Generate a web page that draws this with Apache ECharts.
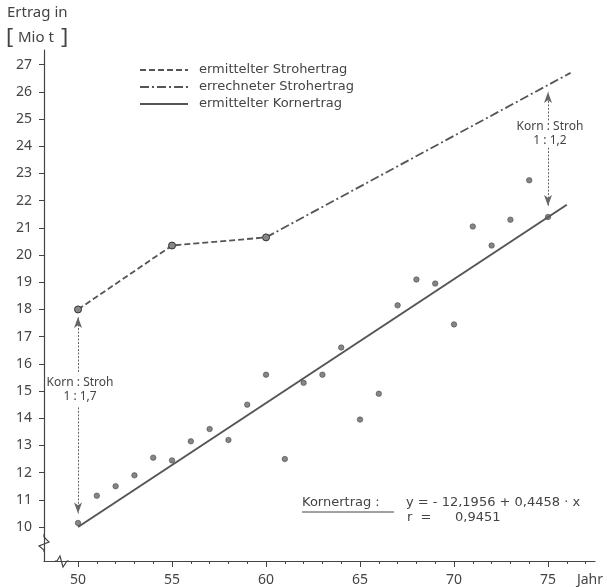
<!DOCTYPE html>
<html lang="de">
<head>
  <meta charset="UTF-8" />
  <title>Ertrag Korn / Stroh</title>
  <script src="https://cdn.jsdelivr.net/npm/echarts@6/dist/echarts.min.js"></script>
  <style>
    html, body { margin: 0; padding: 0; background: #fff; }
    #chart { width: 607px; height: 587px; }
  </style>
</head>
<body>
  <div id="chart"></div>
  <script>
    // Kornertrag, ermittelt (Jahr 50..75)
    const years = [50, 51, 52, 53, 54, 55, 56, 57, 58, 59, 60, 61, 62, 63, 64, 65, 66, 67, 68, 69, 70, 71, 72, 73, 74, 75];
    const kornValues = [10.15, 11.15, 11.5, 11.9, 12.55, 12.45, 13.15, 13.6, 13.2, 14.5, 15.6, 12.5, 15.3, 15.6, 16.6, 13.95, 14.9, 18.15, 19.1, 18.95, 17.45, 21.05, 20.35, 21.3, 22.75, 21.4];

    // Strohertrag
    const strohYears = [50, 55, 60];
    const strohValues = [18.0, 20.35, 20.65];
    const strohCalcYears = [60, 76.2];
    const strohCalcValues = [20.65, 26.7];

    // Regressionsgerade Korn
    const kornLineYears = [50, 76];
    const kornLineValues = [10.0, 21.85];

    // Verhältnis-Pfeile: [jahr, von, bis]
    const ratioArrows = [
      [50, 15.7, 17.72], [50, 14.4, 10.5],
      [75, 24.95, 26.0], [75, 23.95, 21.8]
    ];
    const ratioLabels = [
      { year: 50, value: 15.05, text: 'Korn : Stroh\n1 : 1,7' },
      { year: 75, value: 24.45, text: 'Korn : Stroh\n1 : 1,2' }
    ];

    const yTicks = [10, 11, 12, 13, 14, 15, 16, 17, 18, 19, 20, 21, 22, 23, 24, 25, 26, 27];
    const xLabels = [50, 55, 60, 65, 70, 75];
    const xMinorTicks = [50, 51, 52, 53, 54, 55, 56, 57, 58, 59, 60, 61, 62, 63, 64, 65, 66, 67, 68, 69, 70, 71, 72, 73, 74, 75, 76, 77];

    const ink = '#444';
    const font = 'Noto Sans';
    const wide = 'DejaVu Sans';
    const zip = (xs, ys) => xs.map((x, i) => [x, ys[i]]);

    const chart = echarts.init(document.getElementById('chart'), null, { renderer: 'canvas' });

    const xBase = {
      type: 'value', min: 48.19, max: 77.5, position: 'bottom',
      splitLine: { show: false }
    };

    chart.setOption({
      animation: false,
      backgroundColor: '#fff',
      grid: { left: 44, right: 12, top: 50, bottom: 26 },
      xAxis: [
        Object.assign({}, xBase, {
          axisLine: { lineStyle: { color: ink, width: 1.2 } },
          axisTick: { show: true, length: 3, customValues: xMinorTicks, lineStyle: { color: ink } },
          axisLabel: { show: false }
        }),
        Object.assign({}, xBase, {
          axisLine: { show: false },
          axisTick: { show: true, length: 6, customValues: xLabels, lineStyle: { color: ink } },
          axisLabel: { customValues: xLabels, color: ink, fontFamily: font, fontSize: 14, margin: 12 }
        })
      ],
      yAxis: {
        type: 'value', min: 8.75, max: 27.54,
        splitLine: { show: false },
        axisLine: { show: true, lineStyle: { color: ink, width: 1.2 } },
        axisTick: { show: true, length: 5, customValues: yTicks, lineStyle: { color: ink } },
        axisLabel: { customValues: yTicks, color: ink, fontFamily: font, fontSize: 14, margin: 12 }
      },
      series: [
        {
          name: 'ermittelter Kornertrag',
          type: 'line',
          data: zip(kornLineYears, kornLineValues),
          showSymbol: false,
          lineStyle: { color: '#555', width: 2 },
          markLine: {
            silent: true,
            symbol: ['none', 'arrow'],
            symbolSize: [6, 11],
            label: { show: false },
            lineStyle: { color: '#666', width: 1, type: [2, 1.5] },
            data: ratioArrows.map(([x, a, b]) => [{ coord: [x, a] }, { coord: [x, b] }])
          }
        },
        {
          name: 'Kornertrag Messwerte',
          type: 'scatter',
          data: zip(years, kornValues),
          symbolSize: 5.5,
          itemStyle: { color: '#666', borderColor: '#333', borderWidth: 0.6 }
        },
        {
          name: 'ermittelter Strohertrag',
          type: 'line',
          data: zip(strohYears, strohValues),
          symbol: 'circle',
          symbolSize: 7,
          itemStyle: { color: '#888', borderColor: '#333', borderWidth: 1 },
          lineStyle: { color: '#555', width: 1.8, type: [6, 3] }
        },
        {
          name: 'errechneter Strohertrag',
          type: 'line',
          data: zip(strohCalcYears, strohCalcValues),
          showSymbol: false,
          lineStyle: { color: '#555', width: 1.8, type: [9, 3, 2, 3] }
        }
      ]
    });

    // Legende, Beschriftungen, Achsenbruch
    const px = (x, y) => chart.convertToPixel({ gridIndex: 0 }, [x, y]);
    const textStyle = (extra) => Object.assign({ fill: ink, font: '14px "' + font + '"' }, extra);

    const legendRows = [
      { text: 'ermittelter Strohertrag', dash: [6, 3] },
      { text: 'errechneter Strohertrag', dash: [9, 3, 2, 3] },
      { text: 'ermittelter Kornertrag', dash: null }
    ];
    const graphic = [];
    legendRows.forEach((row, i) => {
      const y = 70 + i * 17;
      graphic.push({
        type: 'line', shape: { x1: 140, y1: y, x2: 188, y2: y },
        style: { stroke: '#555', lineWidth: row.dash ? 1.8 : 2, lineDash: row.dash }
      });
      graphic.push({
        type: 'text', x: 199, y: y,
        style: textStyle({ text: row.text, font: '13px "' + wide + '"', textVerticalAlign: 'middle' })
      });
    });

    graphic.push({ type: 'text', x: 7, y: 13, style: textStyle({ text: 'Ertrag in', font: '15px "' + font + '"', textVerticalAlign: 'middle' }) });
    graphic.push({ type: 'text', x: 6, y: 38, style: textStyle({ text: '[', font: '22px "' + font + '"', textVerticalAlign: 'middle' }) });
    graphic.push({ type: 'text', x: 18, y: 38, style: textStyle({ text: 'Mio t', font: '15px "' + font + '"', textVerticalAlign: 'middle' }) });
    graphic.push({ type: 'text', x: 61, y: 38, style: textStyle({ text: ']', font: '22px "' + font + '"', textVerticalAlign: 'middle' }) });

    ratioLabels.forEach(l => {
      const p = px(l.year, l.value);
      graphic.push({
        type: 'text', x: p[0] + 2, y: p[1],
        style: textStyle({ text: l.text, font: '12px "' + font + '"', textAlign: 'center', textVerticalAlign: 'middle', lineHeight: 14 })
      });
    });

    // Regressionsformel
    const f13 = '13px "' + wide + '"';
    graphic.push({ type: 'text', x: 302, y: 503, style: textStyle({ text: 'Kornertrag :', font: f13, textVerticalAlign: 'middle' }) });
    graphic.push({ type: 'line', shape: { x1: 302, y1: 512, x2: 394, y2: 512 }, style: { stroke: ink, lineWidth: 1 } });
    graphic.push({ type: 'text', x: 406, y: 503, style: textStyle({ text: 'y = - 12,1956 + 0,4458 · x', font: f13, textVerticalAlign: 'middle' }) });
    graphic.push({ type: 'text', x: 407, y: 518, style: textStyle({ text: 'r  =', font: f13, textVerticalAlign: 'middle' }) });
    graphic.push({ type: 'text', x: 455, y: 518, style: textStyle({ text: '0,9451', font: f13, textVerticalAlign: 'middle' }) });

    // "Jahr" rechts neben der letzten Beschriftung
    const jahr = px(77.5, 8.75);
    graphic.push({ type: 'text', x: jahr[0] + 8, y: jahr[1] + 19, style: textStyle({ text: 'Jahr', textAlign: 'right', textVerticalAlign: 'middle' }) });

    // Achsenbruch an beiden Achsen
    const corner = px(48.19, 8.75);
    const cx = corner[0], cy = corner[1];
    graphic.push({ type: 'rect', shape: { x: cx - 3, y: cy - 27, width: 6, height: 17 }, style: { fill: '#fff' } });
    graphic.push({
      type: 'polyline', shape: { points: [[cx, cy - 27], [cx, cy - 24], [cx + 5, cy - 19], [cx - 5, cy - 15], [cx, cy - 11], [cx, cy - 9]] },
      style: { stroke: ink, lineWidth: 1.2, fill: null }
    });
    graphic.push({ type: 'rect', shape: { x: cx + 11, y: cy - 2, width: 14, height: 4 }, style: { fill: '#fff' } });
    graphic.push({
      type: 'polyline', shape: { points: [[cx + 11, cy], [cx + 13, cy], [cx + 16, cy - 5], [cx + 19, cy + 6], [cx + 23, cy], [cx + 25, cy]] },
      style: { stroke: ink, lineWidth: 1.2, fill: null }
    });

    chart.setOption({ graphic: graphic });
  </script>
</body>
</html>
